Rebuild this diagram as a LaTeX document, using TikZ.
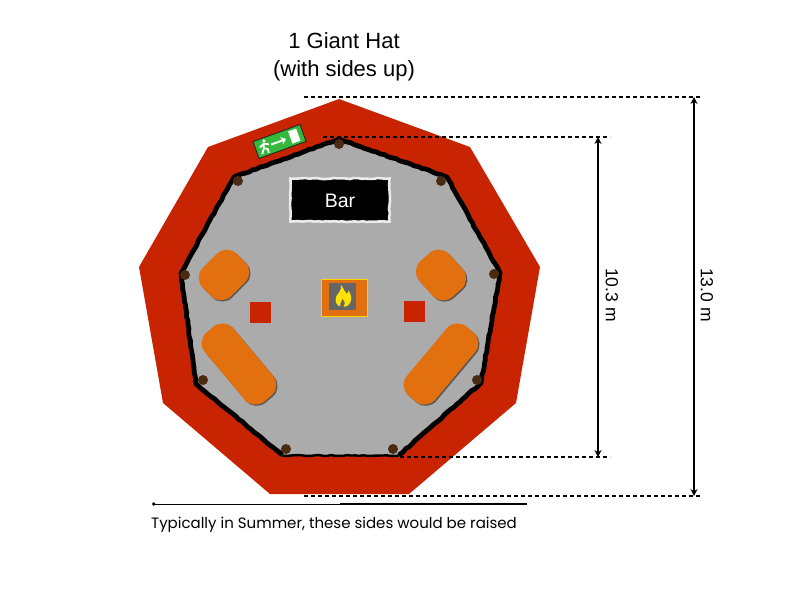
\documentclass[tikz,border=0pt]{standalone}
\usepackage{fontspec}
\setmainfont{Liberation Sans}
\newfontfamily\notefont{Poppins}
\usetikzlibrary{arrows.meta,shadows,decorations.pathmorphing}
\definecolor{hat-red}{HTML}{C92402}
\definecolor{floor-gray}{HTML}{ABABAB}
\definecolor{table-orange}{HTML}{E2700F}
\definecolor{post-brown}{HTML}{4A2A10}
\definecolor{exit-green}{HTML}{35B83C}
\tikzset{
    table-box/.style = {fill=table-orange, rectangle, rounded corners=14pt, inner sep=0pt, drop shadow={shadow xshift=1.2pt, shadow yshift=-1.2pt, fill=black!80, opacity=0.7}},
    stool-box/.style = {fill=hat-red, rectangle, inner sep=0pt, minimum size=21pt, drop shadow={shadow xshift=0.8pt, shadow yshift=-0.8pt, fill=black!70, opacity=0.6}},
    post-dot/.style = {circle, fill=post-brown, inner sep=0pt, minimum size=10pt},
    dim-guide/.style = {dash pattern=on 4pt off 3pt, line width=1.1pt},
    dim-arrow/.style = {{Stealth[length=7pt,width=7pt]}-{Stealth[length=7pt,width=7pt]}, line width=1.2pt},
    rough-edge/.style = {decorate, decoration={random steps, segment length=4pt, amplitude=0.5pt}},
}
\begin{document}
\begin{tikzpicture}[x=1pt,y=-1pt]
\useasboundingbox (0,0) rectangle (800,600);
% roof and floor
\fill[hat-red] (339,99) -- (470,147) -- (540,267) -- (516,403) -- (409,494) -- (270,494) -- (163,403) -- (139,267) -- (208,147) -- cycle;
\fill[floor-gray] (339,139) -- (447,177) -- (500,273) -- (481,383) -- (399,455) -- (282,455) -- (196,384) -- (181,273) -- (234,177) -- cycle;
\draw[line width=4.8pt, rough-edge, line join=round] (339,139) -- (447,177) -- (500,273) -- (481,383) -- (399,455);
\draw[line width=2.4pt, rough-edge] (399,455.5) -- (282,455.5);
\draw[line width=4.8pt, rough-edge, line join=round] (282,455) -- (196,384) -- (181,273) -- (234,177) -- (339,139);
% posts
\foreach \x/\y [count=\i] in {339/144, 441/181, 494/274, 477/380, 393/449, 286/449, 203/380, 185/275, 238/181}
    \node[post-dot] (post\i) at (\x,\y) {};
% tables and stools
\node[table-box, minimum width=48pt, minimum height=40pt, rotate=45] (table-nw) at (224,275) {};
\node[table-box, minimum width=48pt, minimum height=40pt, rotate=-48] (table-ne) at (441,275) {};
\node[table-box, minimum width=90pt, minimum height=37pt, rotate=-50] (table-sw) at (239,364) {};
\node[table-box, minimum width=90pt, minimum height=37pt, rotate=50] (table-se) at (441,364) {};
\node[stool-box] (stool-w) at (260,312) {};
\node[stool-box] (stool-e) at (414,311) {};
% bar
\node[fill=black, draw=white!92!black, line width=2.6pt, rough-edge, minimum width=99pt, minimum height=43pt, inner sep=0pt] (bar) at (340,200) {};
\node[text=white, font=\fontsize{19.5}{22}\selectfont] (bar-label) at (340,201) {Bar};
% fire
\node[fill=table-orange, draw=yellow!70!orange, line width=0.8pt, minimum width=46pt, minimum height=37pt, inner sep=0pt] (fire) at (344,297.5) {};
\node[fill=black!60, minimum size=27pt, inner sep=0pt] (hearth) at (342.5,296.5) {};
\fill[yellow!85!orange] (341,285) .. controls (345,290) and (344,292) .. (347,294) .. controls (349,292) and (348,291) .. (348.5,290.5) .. controls (351,294) and (352,298) .. (350.5,302) .. controls (349,306) and (345,307) .. (343.5,306.5) .. controls (346,303) and (344,300) .. (342.5,298.5) .. controls (342,301) and (340,302) .. (340,306.5) .. controls (336,305) and (335,301) .. (336,297) .. controls (337,294) and (342,291) .. (341,285) -- cycle;
% exit sign
\node[fill=exit-green, draw=black!85, line width=0.9pt, minimum width=50pt, minimum height=18pt, inner sep=0pt, rotate=20] (exit) at (279.5,141.5) {};
\begin{scope}[shift={(279.5,141.5)}, rotate=20]
    \fill[white] (-14.5,-6) circle (1.7pt);
    \draw[white, line width=1.8pt, line join=round] (-15.5,-3.5) -- (-17,1) -- (-13.5,3) -- (-14,7) (-17,1) -- (-20.5,6) (-20.5,-1) -- (-15.5,-3.5) -- (-11,-1);
    \draw[white, line width=2pt, -{Stealth[length=5pt,width=8pt]}] (-9,0) -- (7,0);
    \fill[white] (11.5,-6.5) rectangle (20,6.5);
\end{scope}
% dimensions
\coordinate (outer-top-l) at (304,97);
\coordinate (outer-top-r) at (700,97);
\coordinate (outer-bot-l) at (304,496);
\coordinate (outer-bot-r) at (700,496);
\coordinate (inner-top-l) at (323,137);
\coordinate (inner-top-r) at (610,137);
\coordinate (inner-bot-l) at (400,457);
\coordinate (inner-bot-r) at (610,457);
\coordinate (outer-a) at (694,97);
\coordinate (outer-b) at (694,496);
\coordinate (inner-a) at (598,137);
\coordinate (inner-b) at (598,457);
\draw[dim-guide] (outer-top-l) -- (outer-top-r);
\draw[dim-guide] (outer-bot-l) -- (outer-bot-r);
\draw[dim-guide] (inner-top-l) -- (inner-top-r);
\draw[dim-guide] (inner-bot-l) -- (inner-bot-r);
\draw[dim-arrow] (outer-a) -- (outer-b);
\draw[dim-arrow] (inner-a) -- (inner-b);
\node[rotate=-90, font=\fontsize{17.5}{20}\selectfont] (outer-label) at (707,295) {13.0 m};
\node[rotate=-90, font=\fontsize{17.5}{20}\selectfont] (inner-label) at (612,295) {10.3 m};
% title and note
\node[font=\fontsize{22}{28}\selectfont, align=center] (title) at (344,57) {1 Giant Hat\\(with sides up)};
\coordinate (side-l) at (152,504);
\coordinate (side-m) at (340,504);
\coordinate (side-r) at (527,504);
\draw[line width=0.8pt, {Circle[length=3.5pt]}-] (side-l) -- (side-m);
\draw[line width=1.4pt] (side-m) -- (side-r);
\node[font=\notefont\fontsize{15}{17}\selectfont] (note) at (334,525) {Typically in Summer, these sides would be raised};
\end{tikzpicture}
\end{document}
